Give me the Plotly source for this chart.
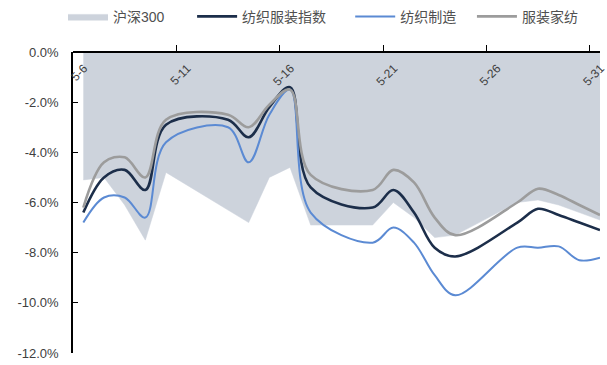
import pandas as pd
import plotly.graph_objects as go

dates = ["2019-05-06", "2019-05-07", "2019-05-08", "2019-05-09", "2019-05-10",
         "2019-05-13", "2019-05-14", "2019-05-15", "2019-05-16", "2019-05-17",
         "2019-05-20", "2019-05-21", "2019-05-22", "2019-05-23", "2019-05-24",
         "2019-05-27", "2019-05-28", "2019-05-29", "2019-05-30", "2019-05-31"]

hs300 = [-5.1, -5.0, -6.1, -7.5, -4.8, -6.3, -6.8, -5.0, -4.6, -6.9,
         -6.9, -6.0, -6.6, -7.4, -7.3, -6.0, -5.9, -6.1, -6.4, -6.7]
textile_apparel = [-6.4, -5.0, -4.7, -5.5, -2.9, -2.7, -3.4, -2.2, -1.4, -5.4,
                   -6.2, -5.5, -6.4, -7.8, -8.15, -6.8, -6.25, -6.5, -6.8, -7.1]
textile_mfg = [-6.8, -5.8, -5.8, -6.6, -3.6, -3.0, -4.4, -2.5, -1.5, -6.4,
               -7.6, -7.0, -7.6, -8.9, -9.7, -7.8, -7.8, -7.75, -8.3, -8.2]
apparel_home = [-6.2, -4.4, -4.2, -5.0, -2.7, -2.5, -3.0, -2.1, -1.5, -4.9,
                -5.5, -4.7, -5.2, -6.6, -7.3, -6.0, -5.45, -5.7, -6.1, -6.5]

names = ["沪深300", "纺织服装指数", "纺织制造", "服装家纺"]
tick_dates = ["2019-05-06", "2019-05-11", "2019-05-16", "2019-05-21", "2019-05-26", "2019-05-31"]
tick_text = ["5-6", "5-11", "5-16", "5-21", "5-26", "5-31"]
y_ticks = [0, -2, -4, -6, -8, -10, -12]
y_tick_text = ["0.0%", "-2.0%", "-4.0%", "-6.0%", "-8.0%", "-10.0%", "-12.0%"]

# points sit in the middle of each day (date axis, "between tick marks")
x = pd.to_datetime(dates) + pd.Timedelta(hours=12)

FONT = "Liberation Sans, Arial, Noto Sans CJK SC, sans-serif"

fig = go.Figure()
fig.add_trace(go.Scatter(
    x=x, y=hs300, name=names[0], mode="lines", fill="tozeroy", legend="legend",
    fillcolor="#CDD3DC", line=dict(color="#CDD3DC", width=0.5),
))
fig.add_trace(go.Scatter(
    x=x, y=textile_apparel, name=names[1], mode="lines", legend="legend2",
    line=dict(color="#1C2E4A", width=2.6, shape="spline", smoothing=1.0),
))
fig.add_trace(go.Scatter(
    x=x, y=textile_mfg, name=names[2], mode="lines", legend="legend3",
    line=dict(color="#5B8AD3", width=2, shape="spline", smoothing=1.0),
))
fig.add_trace(go.Scatter(
    x=x, y=apparel_home, name=names[3], mode="lines", legend="legend4",
    line=dict(color="#9C9C9C", width=2.6, shape="spline", smoothing=1.0),
))

def leg(xpos):
    return dict(orientation="h", x=xpos, xanchor="left", y=1.117, yanchor="middle",
                font=dict(size=14, color="#505050"), bgcolor="rgba(0,0,0,0)",
                itemwidth=40)

fig.update_layout(
    width=607, height=365,
    margin=dict(l=73, r=7, t=52, b=12, autoexpand=False),
    paper_bgcolor="white", plot_bgcolor="white",
    font=dict(family=FONT, size=11, color="#404040"),
    showlegend=True,
    legend=leg(-0.019),
    legend2=leg(0.226),
    legend3=leg(0.526),
    legend4=leg(0.757),
    xaxis=dict(
        type="date", side="bottom", anchor="free", position=1.0,
        range=["2019-05-06 00:00", "2019-05-31 12:00"],
        tickvals=pd.to_datetime(tick_dates), ticktext=tick_text,
        tickangle=-45, ticklabelshift=11, ticklabelstandoff=4,
        ticklabeloverflow="allow",
        ticks="inside", ticklen=6, tickcolor="black", tickwidth=1.2,
        showline=True, linecolor="black", linewidth=1.5,
        showgrid=False, zeroline=False,
        tickfont=dict(size=12, color="#404040"),
    ),
    yaxis=dict(
        range=[-12, 0], tickvals=y_ticks, ticktext=y_tick_text,
        ticks="inside", ticklen=5, tickcolor="black", tickwidth=1.2,
        ticklabelstandoff=10,
        showline=True, linecolor="black", linewidth=1.5,
        showgrid=False, zeroline=False,
        tickfont=dict(size=13, color="#404040"),
    ),
)

fig.write_html("out.html")
